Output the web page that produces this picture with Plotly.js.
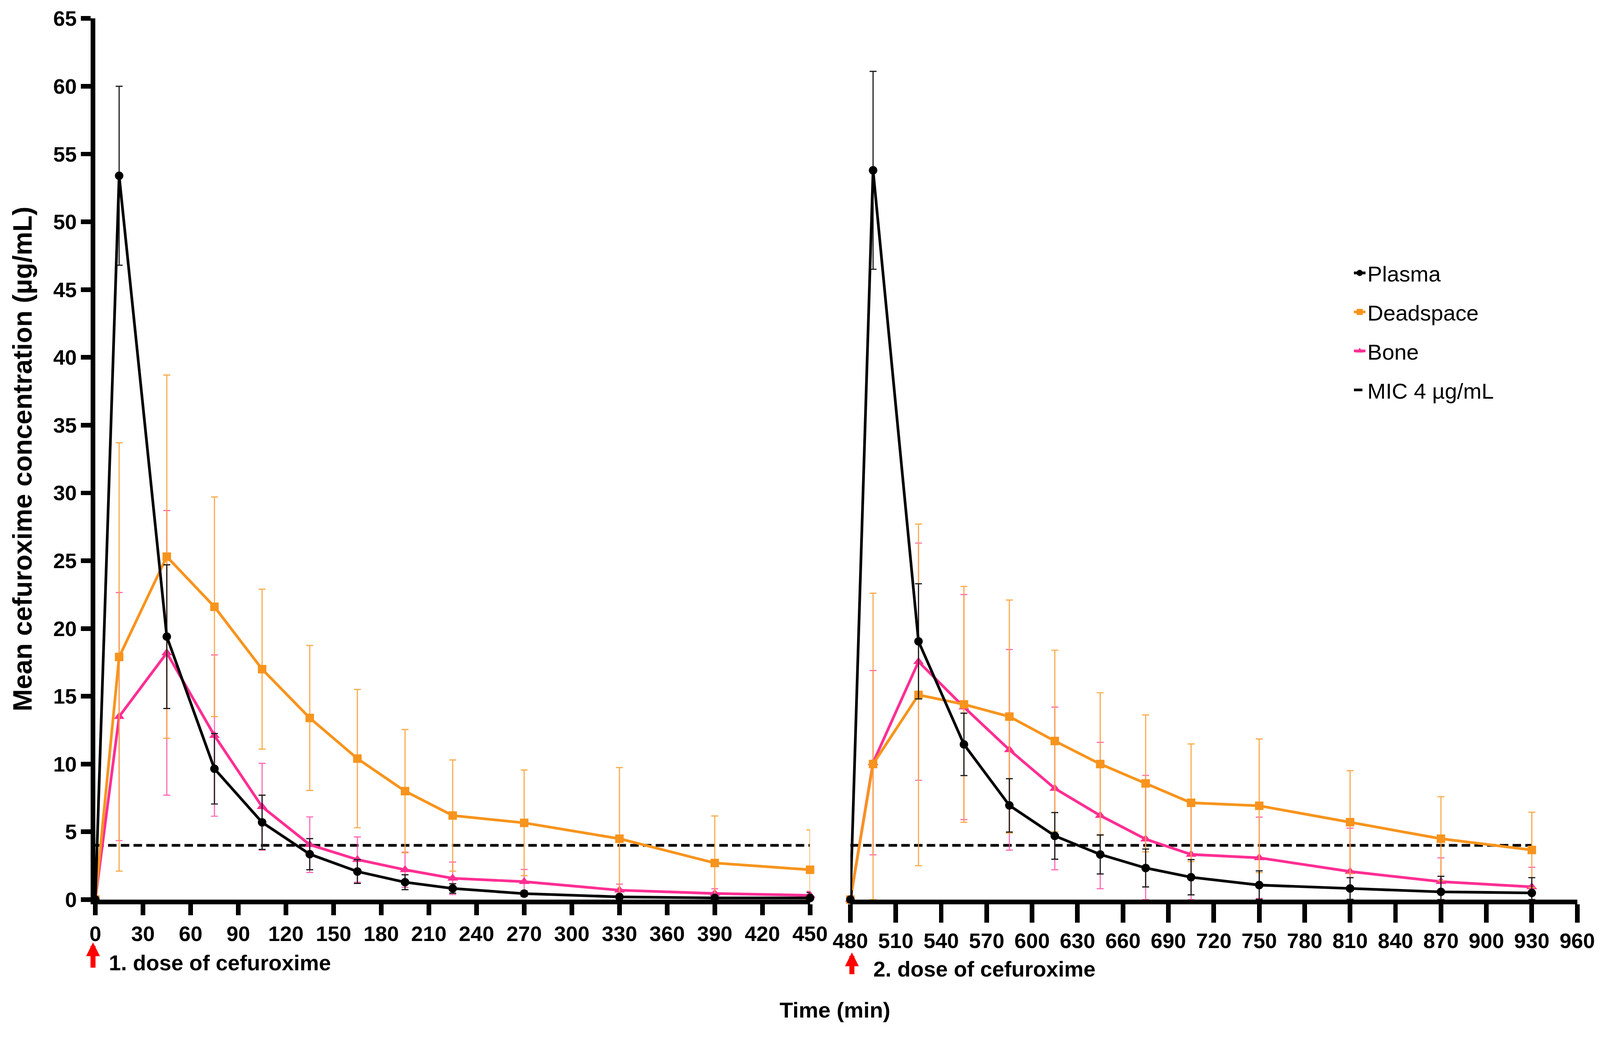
<!DOCTYPE html>
<html>
<head>
<meta charset="utf-8">
<script src="https://cdn.plot.ly/plotly-3.0.1.min.js"></script>
<style>
  html, body { margin: 0; padding: 0; background: #fff; overflow: hidden; }
  #chart { width: 4146px; height: 2684px; transform-origin: 0 0; }
</style>
</head>
<body>
<div id="chart"></div>
<script>
// sampling times (min) after 1st and 2nd dose
var timeDose1 = [0, 15, 45, 75, 105, 135, 165, 195, 225, 270, 330, 390, 450];
var timeDose2 = [480, 495, 525, 555, 585, 615, 645, 675, 705, 750, 810, 870, 930];

// mean concentrations (ug/mL) and SD
var plasma1   = [0, 53.4, 19.4, 9.65, 5.7, 3.35, 2.07, 1.28, 0.82, 0.44, 0.2, 0.12, 0.12];
var plasma1Sd = [0, 6.6, 5.3, 2.6, 2.0, 1.15, 0.88, 0.55, 0.35, 0.2, 0.12, 0.1, 0.4];
var dead1     = [0, 17.9, 25.3, 21.6, 17.0, 13.4, 10.4, 8.0, 6.2, 5.66, 4.49, 2.7, 2.2];
var dead1Sd   = [0, 15.8, 13.4, 8.1, 5.9, 5.35, 5.1, 4.55, 4.1, 3.9, 5.25, 3.47, 2.94];
var bone1     = [0, 13.5, 18.2, 12.1, 6.85, 4.05, 2.95, 2.2, 1.57, 1.32, 0.69, 0.45, 0.31];
var bone1Sd   = [0, 9.15, 10.5, 5.95, 3.2, 2.05, 1.67, 1.3, 1.2, 0.9, 0.45, 0.35, 0.3];

var plasma2   = [0, 53.8, 19.05, 11.45, 6.95, 4.7, 3.33, 2.33, 1.65, 1.07, 0.82, 0.57, 0.49];
var plasma2Sd = [0, 7.3, 4.25, 2.3, 1.97, 1.72, 1.44, 1.4, 1.3, 1.05, 0.8, 1.15, 1.13];
var dead2     = [0, 10.0, 15.1, 14.4, 13.5, 11.7, 10.0, 8.57, 7.14, 6.92, 5.71, 4.49, 3.66];
var dead2Sd   = [0, 12.6, 12.6, 8.7, 8.6, 6.7, 5.26, 5.05, 4.34, 4.93, 3.8, 3.1, 2.78];
var bone2     = [0, 10.1, 17.55, 14.2, 11.05, 8.2, 6.2, 4.46, 3.33, 3.08, 2.07, 1.32, 0.94];
var bone2Sd   = [0, 6.8, 8.75, 8.3, 7.4, 6.0, 5.4, 4.7, 3.6, 3.0, 3.2, 1.76, 1.44];

var micLevel = 4;
var micX1 = [0, 450];
var micX2 = [480, 930];

var font = "'Liberation Sans', Arial, Helvetica, sans-serif";
var BLACK = "#000000", ORANGE = "#F7941D", PINK = "#FF2E93";

// error bars stop at the x axis
function errBar(mean, sd, color) {
  return {
    type: "data", symmetric: false,
    array: sd,
    arrayminus: sd.map(function (s, i) { return Math.min(s, mean[i]); }),
    color: color, thickness: 3, width: 9
  };
}

function series(name, x, y, sd, xaxis, color, errColor, symbol, size, rank, show) {
  return {
    x: x, y: y, xaxis: xaxis, yaxis: "y",
    type: "scatter", mode: "lines+markers",
    name: name, legendgroup: name, showlegend: show, legendrank: rank,
    line: { color: color, width: 7 },
    marker: { color: color, symbol: symbol, size: size },
    error_y: errBar(y, sd, errColor),
    cliponaxis: false
  };
}

function micTrace(x, axis, show) {
  return {
    x: x, y: x.map(function () { return micLevel; }), xaxis: axis, yaxis: "y",
    type: "scatter", mode: "lines", name: "MIC 4 µg/mL", legendgroup: "mic",
    showlegend: show, legendrank: 4,
    line: { color: BLACK, width: 7, dash: "22px,11px" }
  };
}

var data = [
  micTrace(micX1, "x", true),
  micTrace(micX2, "x2", false),
  series("Bone", timeDose1, bone1, bone1Sd, "x", PINK, "rgba(255,80,170,0.85)", "triangle-up", 24, 3, true),
  series("Bone", timeDose2, bone2, bone2Sd, "x2", PINK, "rgba(255,80,170,0.85)", "triangle-up", 24, 3, false),
  series("Deadspace", timeDose1, dead1, dead1Sd, "x", ORANGE, "rgba(249,167,66,0.95)", "square", 22, 2, true),
  series("Deadspace", timeDose2, dead2, dead2Sd, "x2", ORANGE, "rgba(249,167,66,0.95)", "square", 22, 2, false),
  series("Plasma", timeDose1, plasma1, plasma1Sd, "x", BLACK, "#1a1a1a", "circle", 22, 1, true),
  series("Plasma", timeDose2, plasma2, plasma2Sd, "x2", BLACK, "#1a1a1a", "circle", 22, 1, false)
];

var tickFont = { family: font, size: 55, color: BLACK, weight: "bold" };

function axisStyle(extra) {
  var base = {
    showgrid: false, zeroline: false, showline: true, linecolor: BLACK, linewidth: 12,
    ticks: "outside", tickwidth: 12, tickcolor: BLACK, tickfont: tickFont
  };
  for (var k in extra) base[k] = extra[k];
  return base;
}

var layout = {
  width: 4146, height: 2684,
  margin: { l: 247, r: 59, t: 48, b: 352 },
  paper_bgcolor: "#fff", plot_bgcolor: "#fff",
  showlegend: true,
  legend: {
    x: 0.848, y: 0.7303, xanchor: "left", yanchor: "top",
    font: { family: font, size: 57, color: BLACK },
    tracegroupgap: 24, bgcolor: "rgba(0,0,0,0)"
  },
  xaxis: axisStyle({ domain: [0, 0.4823], range: [0, 450], tick0: 0, dtick: 30, ticklen: 29, anchor: "y" }),
  xaxis2: axisStyle({ domain: [0.5095, 1], range: [480, 960], tick0: 480, dtick: 30, ticklen: 48, anchor: "y" }),
  yaxis: axisStyle({ range: [0, 65], tick0: 0, dtick: 5, ticklen: 25, anchor: "x" }),
  shapes: [
    { type: "line", xref: "x2", yref: "y", x0: 480, x1: 480, y0: 0, y1: 0.7,
      line: { color: BLACK, width: 12 } }
  ],
  annotations: [
    { text: "Mean cefuroxime concentration (µg/mL)", textangle: -90,
      xref: "paper", yref: "paper", x: -0.0492, y: 0.5, xanchor: "center", yanchor: "middle",
      showarrow: false, font: { family: font, size: 69, color: BLACK, weight: "bold" } },
    { text: "Time (min)", xref: "paper", yref: "paper", x: 0.499, y: -0.1252,
      xanchor: "center", yanchor: "middle", showarrow: false,
      font: { family: font, size: 57, color: BLACK, weight: "bold" } },
    { text: "1. dose of cefuroxime", xref: "x", yref: "paper", x: 0, xshift: 33,
      y: -0.0718, xanchor: "left", yanchor: "middle", showarrow: false,
      font: { family: font, size: 56, color: BLACK, weight: "bold" } },
    { text: "2. dose of cefuroxime", xref: "x2", yref: "paper", x: 480, xshift: 58,
      y: -0.0792, xanchor: "left", yanchor: "middle", showarrow: false,
      font: { family: font, size: 56, color: BLACK, weight: "bold" } },
    { text: "", xref: "x", yref: "paper", x: 0, xshift: -6, y: -0.0486, ax: 0, ay: 67,
      showarrow: true, arrowhead: 2, arrowsize: 0.55, arrowwidth: 13, arrowcolor: "#FF0000" },
    { text: "", xref: "x2", yref: "paper", x: 480, xshift: 4, y: -0.06, ax: 0, ay: 58,
      showarrow: true, arrowhead: 2, arrowsize: 0.55, arrowwidth: 13, arrowcolor: "#FF0000" }
  ]
};

// fit the 4146-wide drawing into the width the page really gets (same factor both ways)
var chart = document.getElementById("chart");
var vw = window.innerWidth;
if (vw > 1000 && vw !== 4146) {
  var s = vw / 4146;
  chart.style.transform = "scale(" + s + ")";
}

Plotly.newPlot("chart", data, layout, { staticPlot: true, displayModeBar: false });
</script>
</body>
</html>
